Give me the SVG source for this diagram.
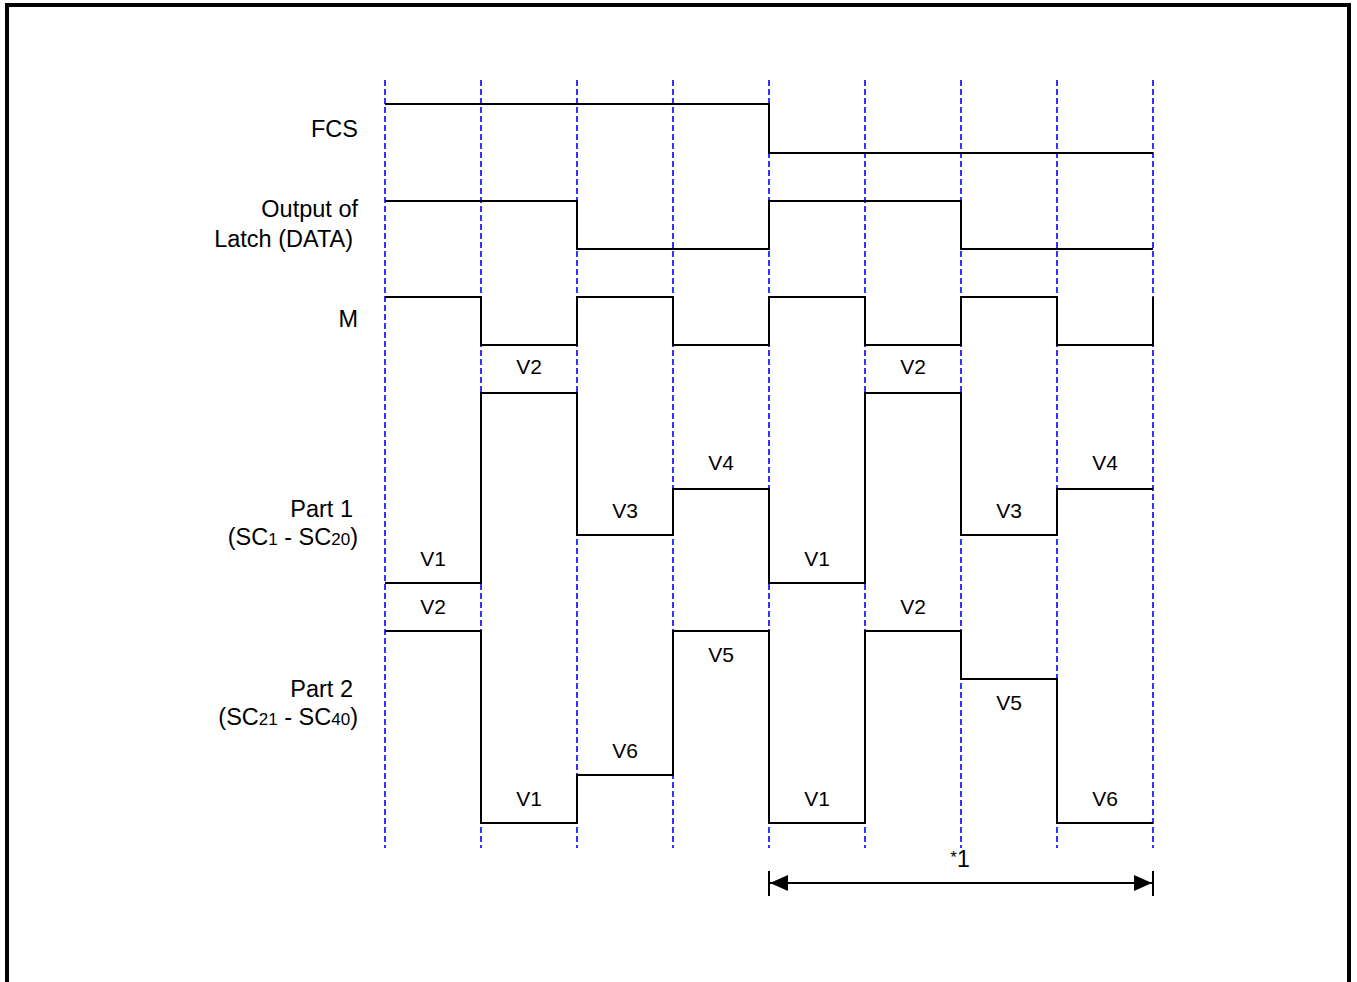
<svg xmlns="http://www.w3.org/2000/svg" width="1357" height="982" viewBox="0 0 1357 982">
<style>
.grid{stroke:#0000ff;stroke-width:1.6;stroke-dasharray:6 3;fill:none}
.sig{stroke:#000;stroke-width:2;fill:none}
text{font-family:"Liberation Sans",Arial,sans-serif;font-size:21px;fill:#000}
.lbl{font-size:23.5px}
.r{text-anchor:end}
.c{text-anchor:middle}
.sub{font-size:17px}
</style>
<defs>
<marker id="ah" viewBox="0 0 18 16" refX="18" refY="8" markerWidth="18" markerHeight="16" markerUnits="userSpaceOnUse" orient="auto-start-reverse">
<path d="M0,0 L18,8 L0,16 Z" fill="#000"/>
</marker>
</defs>
<rect x="7" y="5" width="1342" height="990" fill="#fff" stroke="#000" stroke-width="4"/>
<g id="grid">
<line class="grid" x1="385" y1="80" x2="385" y2="848"/>
<line class="grid" x1="481" y1="80" x2="481" y2="848"/>
<line class="grid" x1="577" y1="80" x2="577" y2="848"/>
<line class="grid" x1="673" y1="80" x2="673" y2="848"/>
<line class="grid" x1="769" y1="80" x2="769" y2="848"/>
<line class="grid" x1="865" y1="80" x2="865" y2="848"/>
<line class="grid" x1="961" y1="80" x2="961" y2="848"/>
<line class="grid" x1="1057" y1="80" x2="1057" y2="848"/>
<line class="grid" x1="1153" y1="80" x2="1153" y2="848"/>
</g>
<g id="fcs">
<text class="r lbl" x="358" y="137">FCS</text>
<polyline class="sig" points="385,104 769,104 769,153 1153,153"/>
</g>
<g id="latch">
<text class="r lbl" x="358" y="217">Output of</text>
<text class="r lbl" x="353" y="247">Latch (DATA)</text>
<polyline class="sig" points="385,201 577,201 577,249 769,249 769,201 961,201 961,249 1153,249"/>
</g>
<g id="m">
<text class="r lbl" x="358" y="327">M</text>
<polyline class="sig" points="385,297 481,297 481,345 577,345 577,297 673,297 673,345 769,345 769,297 865,297 865,345 961,345 961,297 1057,297 1057,345 1153,345 1153,297"/>
</g>
<g id="part1">
<text class="r lbl" x="353" y="517">Part 1</text>
<text class="r lbl" x="358" y="545">(SC<tspan class="sub">1</tspan> - SC<tspan class="sub">20</tspan>)</text>
<polyline class="sig" points="385,583 481,583 481,393 577,393 577,535 673,535 673,489 769,489 769,583 865,583 865,393 961,393 961,535 1057,535 1057,489 1153,489"/>
<text class="c" x="433" y="566">V1</text>
<text class="c" x="529" y="374">V2</text>
<text class="c" x="625" y="518">V3</text>
<text class="c" x="721" y="470">V4</text>
<text class="c" x="817" y="566">V1</text>
<text class="c" x="913" y="374">V2</text>
<text class="c" x="1009" y="518">V3</text>
<text class="c" x="1105" y="470">V4</text>
</g>
<g id="part2">
<text class="r lbl" x="353" y="697">Part 2</text>
<text class="r lbl" x="358" y="725">(SC<tspan class="sub">21</tspan> - SC<tspan class="sub">40</tspan>)</text>
<polyline class="sig" points="385,631 481,631 481,823 577,823 577,775 673,775 673,631 769,631 769,823 865,823 865,631 961,631 961,679 1057,679 1057,823 1153,823"/>
<text class="c" x="433" y="614">V2</text>
<text class="c" x="529" y="806">V1</text>
<text class="c" x="625" y="758">V6</text>
<text class="c" x="721" y="662">V5</text>
<text class="c" x="817" y="806">V1</text>
<text class="c" x="913" y="614">V2</text>
<text class="c" x="1009" y="710">V5</text>
<text class="c" x="1105" y="806">V6</text>
</g>
<g id="connectors">
<line x1="769" y1="871" x2="769" y2="896" stroke="#000" stroke-width="2"/>
<line x1="1153" y1="871" x2="1153" y2="896" stroke="#000" stroke-width="2"/>
<line x1="770" y1="883" x2="1152" y2="883" stroke="#000" stroke-width="2" marker-start="url(#ah)" marker-end="url(#ah)"/>
<text class="c" x="960" y="867"><tspan font-size="17" dy="-4">*</tspan><tspan font-size="23" dy="4">1</tspan></text>
</g>
</svg>
